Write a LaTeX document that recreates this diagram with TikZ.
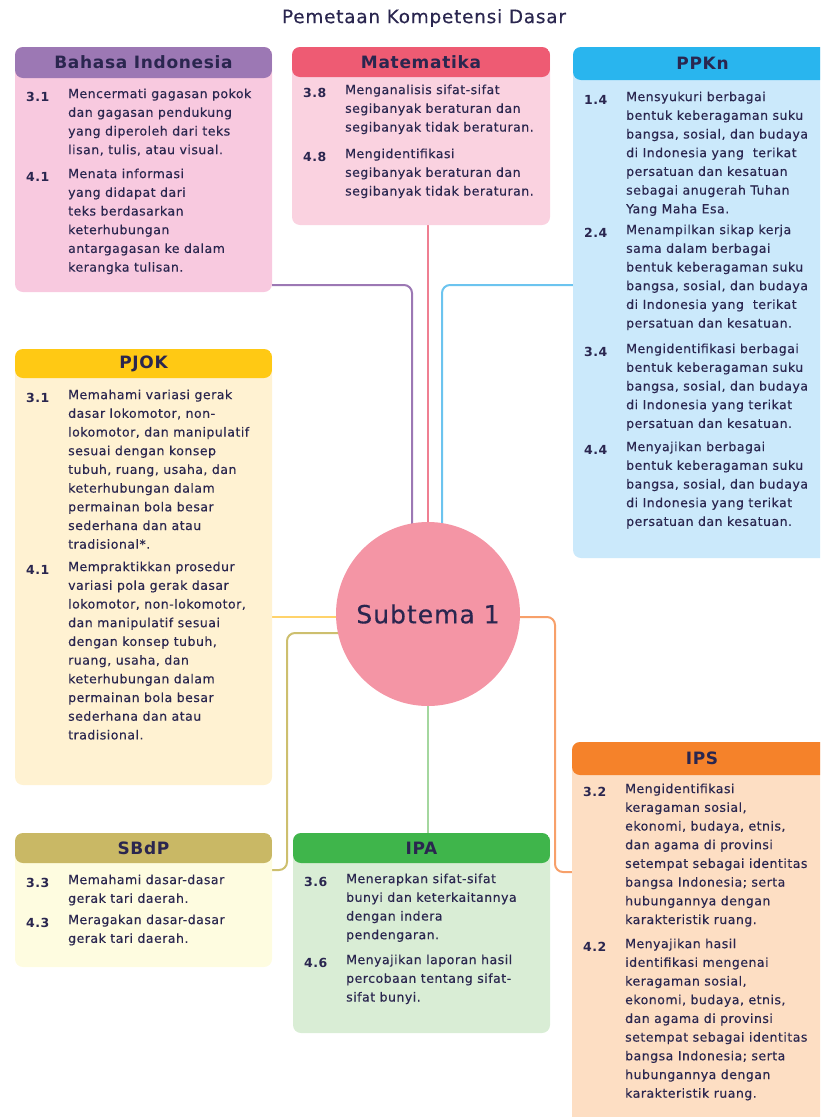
\documentclass[tikz,border=0pt]{standalone}
\usepackage{fontspec}
\newfontfamily\kdf{DejaVu Sans}[LetterSpace=4, FakeBold=0.35]
\newfontfamily\kdfb{DejaVu Sans Bold}[LetterSpace=4]
\usetikzlibrary{backgrounds}

\definecolor{ink}{HTML}{2A264F}
\definecolor{circ}{HTML}{F495A5}
\definecolor{bahasaH}{HTML}{9C78B4}\definecolor{bahasaB}{HTML}{F8C9DF}
\definecolor{matH}{HTML}{EE5B73}\definecolor{matB}{HTML}{FAD2E0}
\definecolor{ppknH}{HTML}{29B5EE}\definecolor{ppknB}{HTML}{CBE9FB}
\definecolor{pjokH}{HTML}{FFC914}\definecolor{pjokB}{HTML}{FFF2D2}
\definecolor{sbdpH}{HTML}{C9B865}\definecolor{sbdpB}{HTML}{FEFCE0}
\definecolor{ipaH}{HTML}{3FB54B}\definecolor{ipaB}{HTML}{D9EDD5}
\definecolor{ipsH}{HTML}{F5822A}\definecolor{ipsB}{HTML}{FDDEC3}
\definecolor{lnPurple}{HTML}{9C78B4}
\definecolor{lnPink}{HTML}{EF7F92}
\definecolor{lnBlue}{HTML}{6CC4EF}
\definecolor{lnYellow}{HTML}{FFD36B}
\definecolor{lnOlive}{HTML}{CDBF6E}
\definecolor{lnGreen}{HTML}{A4D79F}
\definecolor{lnOrange}{HTML}{F7A06A}

\tikzset{
  kdbox/.style n args={3}{rounded corners=8pt, fill=#2, draw=none, inner sep=0pt, outer sep=0pt,
    path picture={\fill[#1] (path picture bounding box.north west) rectangle ([yshift=-#3pt]path picture bounding box.north east);}},
  hdrtext/.style={text=ink, inner sep=0pt, font=\kdfb\fontsize{17}{20}\selectfont},
  kdtxt/.style={anchor=north west, inner sep=0pt, align=left, text=ink,
    font=\kdf\fontsize{12.5}{18.7}\selectfont, execute at begin node=\strut},
  kdnum/.style={kdtxt, font=\kdfb\fontsize{12.5}{18.7}\selectfont},
  link/.style={line width=2pt, rounded corners=8pt}
}

% box: name, x1, y1, x2, y2, header colour, body colour, title, header height
\newcommand\kdbox[9]{%
  \node[kdbox={#6}{#7}{#9}, minimum width={(#4-#2)*1pt}, minimum height={(#5-#3)*1pt}]
    (#1) at ({(#2+#4)/2},{(#3+#5)/2}) {};
  \node[hdrtext] (#1-title) at ([yshift={-#9/2*1pt}]#1.north) {#8};
}
% item: box left x, first line centre y, number, text lines
\newcommand\kditem[4]{%
  \node[kdnum] at ({#1+11},{#2-8.6}) {#3};
  \node[kdtxt] at ({#1+53},{#2-8.6}) {#4};
}

\begin{document}
\begin{tikzpicture}[x=1pt,y=-1pt]
\useasboundingbox (0,0) rectangle (820,1117);
\clip (0,0) rectangle (820,1117);

\node[text=ink, font=\kdf\fontsize{18.5}{22}\selectfont] (title) at (424,18) {Pemetaan Kompetensi Dasar};

% ---- boxes ----
\kdbox{bahasa}{15}{47}{272}{292}{bahasaH}{bahasaB}{Bahasa Indonesia}{31}
\kditem{15}{97}{3.1}{Mencermati gagasan pokok\\dan gagasan pendukung\\yang diperoleh dari teks\\lisan, tulis, atau visual.}
\kditem{15}{177}{4.1}{Menata informasi\\yang didapat dari\\teks berdasarkan\\keterhubungan\\antargagasan ke dalam\\kerangka tulisan.}

\kdbox{mat}{292}{47}{550}{225}{matH}{matB}{Matematika}{30}
\kditem{292}{93}{3.8}{Menganalisis sifat-sifat\\segibanyak beraturan dan\\segibanyak tidak beraturan.}
\kditem{292}{157}{4.8}{Mengidentifikasi\\segibanyak beraturan dan\\segibanyak tidak beraturan.}

\kdbox{ppkn}{573}{47}{832}{558}{ppknH}{ppknB}{PPKn}{33}
\kditem{573}{100}{1.4}{Mensyukuri berbagai\\bentuk keberagaman suku\\bangsa, sosial, dan budaya\\di Indonesia yang \ terikat\\persatuan dan kesatuan\\sebagai anugerah Tuhan\\Yang Maha Esa.}
\kditem{573}{233}{2.4}{Menampilkan sikap kerja\\sama dalam berbagai\\bentuk keberagaman suku\\bangsa, sosial, dan budaya\\di Indonesia yang \ terikat\\persatuan dan kesatuan.}
\kditem{573}{352}{3.4}{Mengidentifikasi berbagai\\bentuk keberagaman suku\\bangsa, sosial, dan budaya\\di Indonesia yang terikat\\persatuan dan kesatuan.}
\kditem{573}{450}{4.4}{Menyajikan berbagai\\bentuk keberagaman suku\\bangsa, sosial, dan budaya\\di Indonesia yang terikat\\persatuan dan kesatuan.}

\kdbox{pjok}{15}{349}{272}{785}{pjokH}{pjokB}{PJOK}{29}
\kditem{15}{398}{3.1}{Memahami variasi gerak\\dasar lokomotor, non-\\lokomotor, dan manipulatif\\sesuai dengan konsep\\tubuh, ruang, usaha, dan\\keterhubungan dalam\\permainan bola besar\\sederhana dan atau\\tradisional*.}
\kditem{15}{570}{4.1}{Mempraktikkan prosedur\\variasi pola gerak dasar\\lokomotor, non-lokomotor,\\dan manipulatif sesuai\\dengan konsep tubuh,\\ruang, usaha, dan\\keterhubungan dalam\\permainan bola besar\\sederhana dan atau\\tradisional.}

\kdbox{sbdp}{15}{833}{272}{967}{sbdpH}{sbdpB}{SBdP}{30}
\kditem{15}{883}{3.3}{Memahami dasar-dasar\\gerak tari daerah.}
\kditem{15}{923}{4.3}{Meragakan dasar-dasar\\gerak tari daerah.}

\kdbox{ipa}{293}{833}{550}{1033}{ipaH}{ipaB}{IPA}{30}
\kditem{293}{882}{3.6}{Menerapkan sifat-sifat\\bunyi dan keterkaitannya\\dengan indera\\pendengaran.}
\kditem{293}{963}{4.6}{Menyajikan laporan hasil\\percobaan tentang sifat-\\sifat bunyi.}

\kdbox{ips}{572}{742}{832}{1130}{ipsH}{ipsB}{IPS}{33}
\kditem{572}{792}{3.2}{Mengidentifikasi\\keragaman sosial,\\ekonomi, budaya, etnis,\\dan agama di provinsi\\setempat sebagai identitas\\bangsa Indonesia; serta\\hubungannya dengan\\karakteristik ruang.}
\kditem{572}{947}{4.2}{Menyajikan hasil\\identifikasi mengenai\\keragaman sosial,\\ekonomi, budaya, etnis,\\dan agama di provinsi\\setempat sebagai identitas\\bangsa Indonesia; serta\\hubungannya dengan\\karakteristik ruang.}

% ---- centre ----
\node[circle, fill=circ, minimum size=184pt, inner sep=0pt, text=ink,
      font=\kdf\fontsize{25}{30}\selectfont] (sub) at (428,614) {Subtema 1};

% ---- connectors ----
\coordinate (jP) at (412,285);
\coordinate (jB) at (442,285);
\coordinate (jY) at (300,617);
\coordinate (jO1) at (287,633);
\coordinate (jO2) at (287,870);
\coordinate (jR1) at (555,617);
\coordinate (jR2) at (555,872);
\begin{pgfonlayer}{background}
  \draw[link, lnPurple] (jP -| bahasa.east) -- (jP) -- (jP |- sub.center);
  \draw[link, lnPink] (sub.center |- mat.south) -- (sub.center);
  \draw[link, lnBlue] (jB -| ppkn.west) -- (jB) -- (jB |- sub.center);
  \draw[link, lnYellow] (jY -| pjok.east) -- (jY -| sub.center);
  \draw[link, lnOlive] (jO1 -| sub.center) -- (jO1) -- (jO2) -- (jO2 -| sbdp.east);
  \draw[link, lnGreen] (sub.center) -- (sub.center |- ipa.north);
  \draw[link, lnOrange] (jR1 -| sub.center) -- (jR1) -- (jR2) -- (jR2 -| ips.west);
\end{pgfonlayer}
\end{tikzpicture}
\end{document}
